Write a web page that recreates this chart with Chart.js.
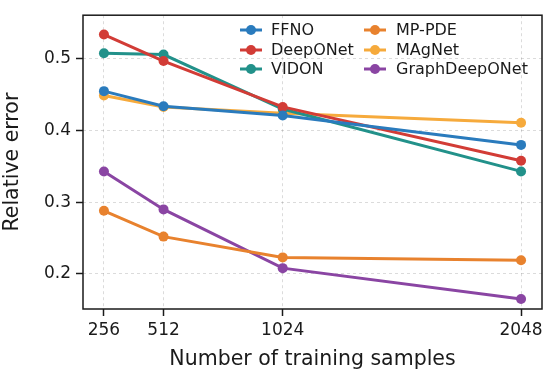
<!DOCTYPE html>
<html>
<head>
<meta charset="utf-8">
<script src="https://cdn.jsdelivr.net/npm/chart.js@4"></script>
<style>
  html, body { margin: 0; padding: 0; background: #fff; }
  #wrap { width: 547px; height: 372px; }
</style>
</head>
<body>
<div id="wrap"><canvas id="chart" width="547" height="372"></canvas></div>
<script>
// training set sizes and tick labels
const samples = [256, 512, 1024, 2048];
const yTicks = [0.2, 0.3, 0.4, 0.5];

// relative error per model
const ffno = [0.455, 0.434, 0.421, 0.380];
const deepONet = [0.534, 0.497, 0.433, 0.358];
const vidon = [0.508, 0.506, 0.430, 0.343];
const mpPde = [0.288, 0.252, 0.223, 0.219];
const magNet = [0.449, 0.433, 0.424, 0.411];
const graphDeepONet = [0.343, 0.290, 0.208, 0.165];

const models = ["FFNO", "DeepONet", "VIDON", "MP-PDE", "MAgNet", "GraphDeepONet"];
const colors = ["#2a7bbd", "#d23c36", "#22918a", "#e8822e", "#f6aa3c", "#8a45a3"];
const series = [ffno, deepONet, vidon, mpPde, magNet, graphDeepONet];

const FONT = "'DejaVu Sans', sans-serif";
const INK = "#1a1a1a";

const datasets = series.map((vals, i) => ({
  label: models[i],
  data: vals.map((v, j) => ({ x: samples[j], y: v })),
  borderColor: colors[i],
  backgroundColor: colors[i],
  borderWidth: 3,
  pointRadius: 5,
  pointHoverRadius: 5,
  pointBorderWidth: 0,
  tension: 0
}));

// legend in two columns, top right of the plot
const legendBox = {
  id: "legendBox",
  afterDatasetsDraw(chart) {
    const ctx = chart.ctx;
    const cols = [{ x: 240, tx: 271 }, { x: 364, tx: 396 }];
    const rows = [30, 50, 69];
    ctx.save();
    ctx.font = "16px " + FONT;
    ctx.textBaseline = "middle";
    models.forEach((name, i) => {
      const c = cols[Math.floor(i / 3)];
      const y = rows[i % 3];
      ctx.strokeStyle = colors[i];
      ctx.fillStyle = colors[i];
      ctx.lineWidth = 3;
      ctx.beginPath();
      ctx.moveTo(c.x, y);
      ctx.lineTo(c.x + 22, y);
      ctx.stroke();
      ctx.beginPath();
      ctx.arc(c.x + 11, y, 5, 0, Math.PI * 2);
      ctx.fill();
      ctx.fillStyle = INK;
      ctx.fillText(name, c.tx, y + 1);
    });
    ctx.restore();
  }
};

// full box around the plotting area
const frame = {
  id: "frame",
  afterDraw(chart) {
    const a = chart.chartArea;
    const ctx = chart.ctx;
    ctx.save();
    ctx.strokeStyle = INK;
    ctx.lineWidth = 1.5;
    ctx.strokeRect(a.left, a.top, a.right - a.left, a.bottom - a.top);
    ctx.restore();
  }
};

const gridOpts = {
  color: "rgba(0,0,0,0.14)",
  lineWidth: 1,
  tickLength: 7,
  tickColor: INK,
  tickWidth: 1.5,
  tickBorderDash: []
};

new Chart(document.getElementById("chart"), {
  type: "line",
  data: { datasets },
  plugins: [legendBox, frame],
  options: {
    responsive: false,
    animation: false,
    layout: { padding: { top: 7, right: 3, left: 0, bottom: 0 } },
    plugins: { legend: { display: false }, tooltip: { enabled: false } },
    scales: {
      x: {
        type: "linear",
        min: 166,
        max: 2138,
        afterBuildTicks: s => { s.ticks = samples.map(v => ({ value: v })); },
        afterFit: s => { s.height = 63; },
        ticks: {
          color: INK,
          font: { family: FONT, size: 17 },
          padding: 4,
          maxRotation: 0,
          callback: v => String(v)
        },
        grid: gridOpts,
        border: { display: false, dash: [3, 3] },
        title: {
          display: true,
          text: "Number of training samples",
          color: INK,
          font: { family: FONT, size: 20.5 },
          padding: { top: 8, bottom: 0 }
        }
      },
      y: {
        min: 0.151,
        max: 0.561,
        afterBuildTicks: s => { s.ticks = yTicks.map(v => ({ value: v })); },
        afterFit: s => { s.width = 83; },
        ticks: {
          color: INK,
          font: { family: FONT, size: 17 },
          padding: 5,
          callback: v => v.toFixed(1)
        },
        grid: gridOpts,
        border: { display: false, dash: [3, 3] },
        title: {
          display: true,
          text: "Relative error",
          color: INK,
          font: { family: FONT, size: 20.5 },
          padding: { top: 0, bottom: 4 }
        }
      }
    }
  }
});
</script>
</body>
</html>
